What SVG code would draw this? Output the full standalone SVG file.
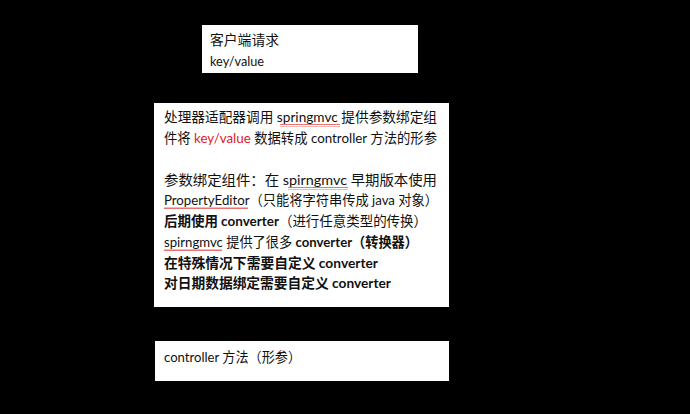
<svg xmlns="http://www.w3.org/2000/svg" width="690" height="414" viewBox="0 0 690 414">
<style>
.box{fill:#ffffff;stroke:none}
.t{font-family:Lato,"Noto Sans CJK SC",sans-serif;font-size:14px;fill:#111111}
.b{font-weight:bold}
.red{fill:#e0201c}
.sq{fill:none;stroke:#e03030;stroke-width:0.8}
</style>
<defs>
<pattern id="wave" width="4" height="3" patternUnits="userSpaceOnUse">
<path d="M0,2 L1,0.5 L2,2 L3,0.5 L4,2" fill="none" stroke="#e03030" stroke-width="0.8"/>
</pattern>
</defs>
<rect x="0" y="0" width="690" height="414" fill="#000000"/>
<g id="connectors"></g>
<g id="node-request">
<rect class="box" x="202" y="25" width="216" height="48"/>
<text class="t" x="210" y="45" textLength="69" lengthAdjust="spacingAndGlyphs">客户端请求</text>
<text class="t" x="210" y="66" textLength="54" lengthAdjust="spacingAndGlyphs">key/value</text>
</g>
<g id="node-adapter">
<rect class="box" x="154" y="103" width="295" height="204"/>
<text class="t" x="164" y="122" textLength="273" lengthAdjust="spacingAndGlyphs">处理器适配器调用 springmvc 提供参数绑定组</text>
<text class="t" x="164" y="143" textLength="273" lengthAdjust="spacingAndGlyphs">件将 <tspan class="red">key/value</tspan> 数据转成 controller 方法的形参</text>
<text class="t" x="164" y="185" textLength="273" lengthAdjust="spacingAndGlyphs">参数绑定组件：在 spirngmvc 早期版本使用</text>
<text class="t" x="164" y="205" textLength="274" lengthAdjust="spacingAndGlyphs">PropertyEditor（只能将字符串传成 java 对象）</text>
<text class="t" x="164" y="226" textLength="263" lengthAdjust="spacingAndGlyphs"><tspan class="b">后期使用 converter</tspan>（进行任意类型的传换）</text>
<text class="t" x="164" y="247" textLength="254" lengthAdjust="spacingAndGlyphs">spirngmvc 提供了很多 <tspan class="b">converter（转换器）</tspan></text>
<text class="t b" x="164" y="268" textLength="214" lengthAdjust="spacingAndGlyphs">在特殊情况下需要自定义 converter</text>
<text class="t b" x="164" y="288" textLength="227" lengthAdjust="spacingAndGlyphs">对日期数据绑定需要自定义 converter</text>
<rect x="280" y="124" width="60" height="3" fill="url(#wave)"/>
<rect x="288" y="187" width="60" height="3" fill="url(#wave)"/>
<rect x="164" y="207" width="84" height="3" fill="url(#wave)"/>
<rect x="164" y="249" width="58" height="3" fill="url(#wave)"/>
</g>
<g id="node-controller">
<rect class="box" x="155" y="341" width="294" height="40"/>
<text class="t" x="164" y="362" textLength="137" lengthAdjust="spacingAndGlyphs">controller 方法（形参）</text>
</g>
</svg>
